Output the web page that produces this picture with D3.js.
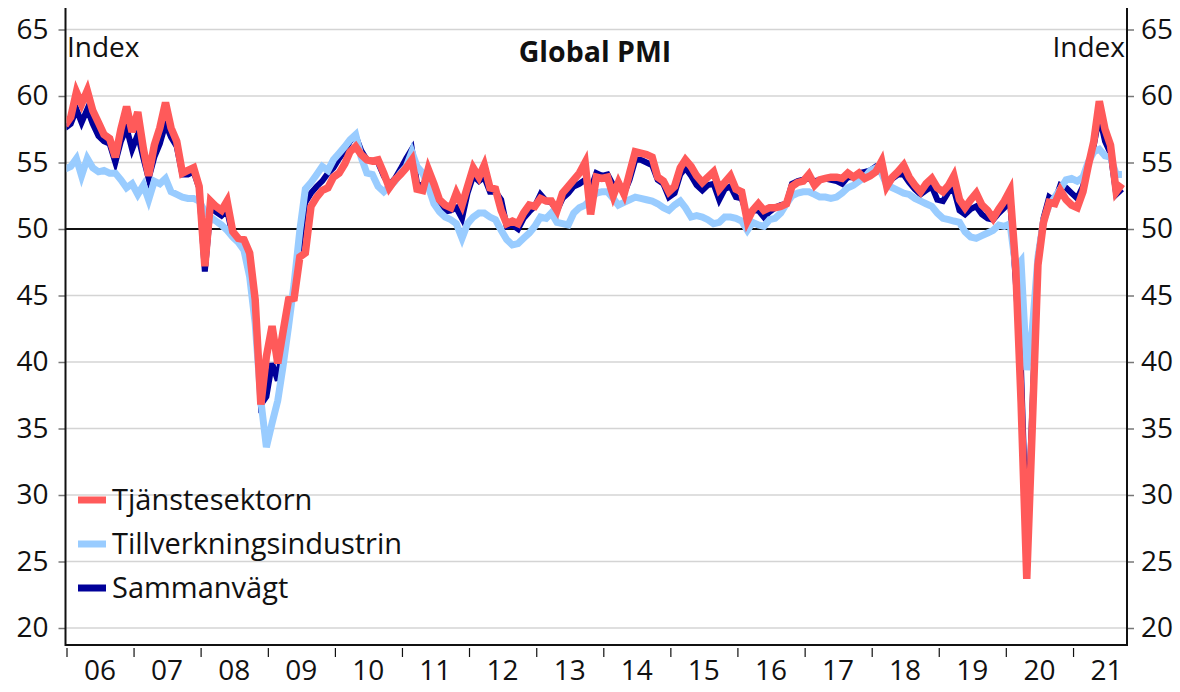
<!DOCTYPE html>
<html>
<head>
<meta charset="utf-8">
<script src="https://cdn.jsdelivr.net/npm/d3@7"></script>
<style>
  body { margin: 0; background: #fff; }
  svg text { font-family: "Open Sans", "Noto Sans", sans-serif; fill: #111; }
</style>
</head>
<body>
<svg id="chart" width="1180" height="692"></svg>
<script>
// monthly values, first point Dec 2005, last Sep 2021
const startYear = 2005, startMonth = 11;

const services = [
  57.8,
  58.4, 60.3, 59.4, 60.4, 58.9, 58.0, 57.1, 56.8, 55.4, 57.5, 59.2, 57.3,
  58.8, 56.0, 54.0, 56.3, 57.6, 59.5, 57.6, 56.6, 54.2, 54.4, 54.6, 53.2,
  47.2, 52.1, 51.7, 51.4, 52.1, 49.8, 49.3, 49.2, 48.2, 44.7, 36.8, 40.4,
  42.7, 39.9, 42.2, 44.7, 44.8, 47.9, 48.2, 51.7, 52.4, 52.9, 53.1, 53.9,
  54.2, 54.9, 55.8, 56.2, 55.6, 55.2, 55.1, 55.2, 54.2, 53.1, 53.7, 54.1,
  54.6, 55.2, 53.0, 52.9, 54.5, 53.4, 52.2, 51.8, 51.6, 52.7, 51.8, 53.2,
  54.6, 53.9, 54.8, 53.1, 53.0, 51.4, 50.4, 50.6, 50.4, 51.2, 51.8, 51.7,
  52.3, 52.1, 52.1, 51.4, 52.7, 53.2, 53.7, 54.2, 55.0, 51.1, 53.9, 53.8,
  53.9, 52.5, 53.5, 52.6, 54.2, 55.8, 55.7, 55.6, 55.4, 53.9, 53.6, 52.8,
  53.2, 54.6, 55.2, 54.7, 54.0, 53.5, 53.9, 54.3, 53.0, 53.5, 54.0, 53.0,
  52.8, 50.6, 51.4, 51.9, 51.4, 51.6, 51.6, 51.7, 51.9, 53.2, 53.5, 53.6,
  54.1, 53.3, 53.7, 53.8, 53.9, 53.9, 53.8, 54.2, 53.9, 54.2, 53.8, 54.0,
  54.3, 55.1, 53.2, 53.9, 54.3, 54.8, 53.9, 53.3, 52.8, 53.4, 53.8, 53.1,
  52.8, 53.3, 54.0, 52.2, 51.6, 52.2, 52.7, 51.8, 51.4, 50.8, 51.5, 52.1,
  52.9, 47.1, 37.0, 23.7, 35.1, 47.3, 50.5, 52.0, 51.9, 52.9, 52.2, 51.8,
  51.6, 52.8, 54.7, 56.6, 59.6, 57.5, 56.3, 52.8, 53.4
];

const manufacturing = [
  54.5,
  54.7, 55.3, 54.0, 55.3, 54.6, 54.3, 54.4, 54.2, 54.2, 53.7, 53.1, 53.4,
  52.6, 53.3, 52.2, 53.6, 53.4, 53.8, 52.8, 52.6, 52.4, 52.3, 52.3, 52.1,
  51.3, 50.9, 50.6, 50.3, 49.9, 49.4, 49.0, 48.4, 46.4, 42.9, 37.1, 33.6,
  35.4, 37.1, 39.6, 42.7, 45.9, 49.9, 53.0, 53.5, 54.1, 54.7, 54.4, 55.2,
  55.7, 56.2, 56.7, 57.1, 55.4, 54.2, 54.1, 53.2, 52.8, 53.2, 53.6, 54.2,
  54.7, 55.8, 54.7, 54.2, 53.2, 51.9, 51.3, 50.9, 50.7, 50.4, 49.3, 50.4,
  50.9, 51.2, 51.2, 50.9, 50.7, 49.9, 49.2, 48.8, 48.9, 49.3, 49.7, 50.2,
  50.9, 50.8, 51.2, 50.5, 50.4, 50.3, 51.2, 51.6, 51.8, 52.2, 52.7, 52.8,
  52.8, 52.3, 51.8, 52.0, 52.2, 52.4, 52.3, 52.2, 52.1, 51.9, 51.6, 51.4,
  51.8, 52.1, 51.6, 50.9, 51.0, 50.9, 50.7, 50.4, 50.5, 50.9, 50.9, 50.8,
  50.6, 49.9, 50.5, 50.3, 50.2, 50.7, 50.8, 51.2, 51.9, 52.5, 52.7, 52.8,
  52.8, 52.6, 52.4, 52.4, 52.3, 52.4, 52.7, 53.1, 53.3, 53.6, 53.9, 54.4,
  54.6, 54.2, 53.3, 53.1, 52.9, 52.7, 52.6, 52.3, 52.1, 51.9, 51.7, 51.2,
  50.8, 50.7, 50.6, 50.5, 49.8, 49.4, 49.3, 49.5, 49.7, 49.9, 50.3, 50.2,
  50.4, 47.1, 47.6, 39.4, 42.4, 47.9, 50.6, 51.8, 52.4, 53.0, 53.7, 53.8,
  53.6, 53.9, 55.0, 55.8, 56.0, 55.5, 55.4, 54.1, 54.1
];

const composite = [
  57.6,
  57.9, 59.0, 58.0, 59.0, 57.9, 57.0, 56.6, 56.4, 55.0, 56.6, 57.6, 56.0,
  57.1, 55.3, 53.8, 55.4, 56.4, 57.9, 56.9, 56.2, 54.1, 54.1, 54.3, 53.1,
  46.8, 51.6, 51.3, 51.0, 51.4, 49.5, 49.1, 48.9, 47.7, 44.5, 36.8, 37.4,
  39.9, 38.6, 41.6, 44.5, 45.0, 48.7, 52.0, 52.7, 53.2, 53.6, 54.2, 54.6,
  55.3, 55.9, 56.6, 57.0, 55.9, 55.2, 55.1, 55.0, 54.0, 53.3, 53.8, 54.5,
  55.3, 56.0, 53.4, 53.2, 54.2, 53.0, 51.9, 51.3, 51.4, 51.6, 50.8, 52.7,
  54.0, 53.6, 53.9, 52.8, 52.8, 52.2, 50.2, 50.3, 50.0, 50.8, 51.3, 51.7,
  52.6, 52.1, 52.0, 51.4, 52.3, 52.7, 53.2, 53.4, 53.7, 53.0, 54.2, 54.0,
  54.1, 53.3, 53.4, 52.7, 53.7, 55.2, 55.2, 55.0, 54.8, 53.7, 53.4, 52.4,
  52.7, 54.1, 54.6, 54.0, 53.3, 52.9, 53.3, 53.4, 52.2, 53.0, 53.2, 52.4,
  52.3, 51.0, 51.4, 51.4, 50.9, 51.3, 51.6, 51.8, 51.9, 53.4, 53.6, 53.7,
  53.8, 53.6, 53.7, 53.8, 53.7, 53.6, 53.4, 53.9, 53.9, 54.2, 54.3, 54.4,
  54.7, 54.6, 53.3, 53.8, 54.1, 54.1, 53.5, 53.0, 52.6, 52.9, 53.2, 52.2,
  52.1, 52.8, 53.0, 51.4, 51.1, 51.5, 51.7, 51.1, 50.8, 50.7, 51.2, 51.6,
  52.2, 46.1, 39.4, 26.2, 36.3, 47.8, 50.8, 52.4, 52.1, 53.3, 53.1, 52.7,
  52.3, 53.2, 54.8, 56.3, 58.5, 56.6, 55.7, 52.6, 53.0
];

const yTicks = [20, 25, 30, 35, 40, 45, 50, 55, 60, 65];
const yearLabels = ["06", "07", "08", "09", "10", "11", "12", "13", "14", "15", "16", "17", "18", "19", "20", "21"];

const seriesNames = ["Tjänstesektorn", "Tillverkningsindustrin", "Sammanvägt"];
const seriesColors = ["#ff5a5a", "#99ccff", "#000099"];

const svg = d3.select("#chart");

const plotL = 65.5, plotR = 1127, plotT = 8, plotB = 645;

const x = d3.scaleTime()
  .domain([new Date(2006, 0, 1), new Date(2022, 0, 1)])
  .range([66.5, 66.5 + 16 * 67.1]);
const y = d3.scaleLinear().domain([20, 65]).range([628, 29.5]);

const dateOf = i => new Date(startYear, startMonth + i, 24);

svg.append("defs").append("clipPath").attr("id", "plotClip")
  .append("rect").attr("x", plotL + 1).attr("y", plotT).attr("width", plotR - plotL - 1).attr("height", plotB - plotT);

// grid
svg.append("g").selectAll("line")
  .data(yTicks.filter(v => v !== 50))
  .enter().append("line")
  .attr("x1", plotL).attr("x2", plotR)
  .attr("y1", d => y(d)).attr("y2", d => y(d))
  .attr("stroke", "#d4d4d4").attr("stroke-width", 1.5);

svg.append("line")
  .attr("x1", plotL).attr("x2", plotR)
  .attr("y1", y(50)).attr("y2", y(50))
  .attr("stroke", "#111").attr("stroke-width", 2);

// y axes
const yLeft = svg.append("g").attr("transform", "translate(" + plotL + ",0)")
  .call(d3.axisLeft(y).tickValues(yTicks).tickSize(7).tickPadding(10));
const yRight = svg.append("g").attr("transform", "translate(" + plotR + ",0)")
  .call(d3.axisRight(y).tickValues(yTicks).tickSize(7).tickPadding(7));

[yLeft, yRight].forEach(g => {
  g.select(".domain").remove();
  g.selectAll(".tick line").attr("stroke", "#777").attr("stroke-width", 1.5);
  g.selectAll(".tick text").attr("font-size", 28).attr("fill", "#111")
    .style("font-family", "'Open Sans', 'Noto Sans', sans-serif");
});

// frame
svg.append("line").attr("x1", plotL).attr("x2", plotL).attr("y1", plotT).attr("y2", plotB + 1)
  .attr("stroke", "#111").attr("stroke-width", 2);
svg.append("line").attr("x1", plotR).attr("x2", plotR).attr("y1", plotT).attr("y2", plotB + 1)
  .attr("stroke", "#111").attr("stroke-width", 2);
svg.append("line").attr("x1", plotL).attr("x2", plotR).attr("y1", plotB).attr("y2", plotB)
  .attr("stroke", "#111").attr("stroke-width", 2);

// x axis: ticks at year start, labels mid-year
const years = d3.range(2006, 2022).map(yy => new Date(yy, 0, 1));
const xAxis = svg.append("g").attr("transform", "translate(0," + plotB + ")")
  .call(d3.axisBottom(x).tickValues(years).tickSize(12).tickFormat(""));
xAxis.select(".domain").remove();
xAxis.selectAll(".tick line").attr("stroke", "#111").attr("stroke-width", 1.2).attr("y1", 3);

svg.append("g").selectAll("text")
  .data(yearLabels)
  .enter().append("text")
  .attr("x", (d, i) => x(new Date(2006 + i, 6, 2)))
  .attr("y", 680)
  .attr("text-anchor", "middle")
  .attr("font-size", 28)
  .text(d => d);

// lines
const line = d3.line()
  .x((d, i) => x(dateOf(i)))
  .y(d => y(d));

const plot = svg.append("g").attr("clip-path", "url(#plotClip)");
plot.append("path").datum(composite)
  .attr("d", line).attr("fill", "none").attr("stroke", seriesColors[2]).attr("stroke-width", 6);
plot.append("path").datum(manufacturing)
  .attr("d", line).attr("fill", "none").attr("stroke", seriesColors[1]).attr("stroke-width", 7);
plot.append("path").datum(services)
  .attr("d", line).attr("fill", "none").attr("stroke", seriesColors[0]).attr("stroke-width", 7.5);

// labels
svg.append("text").attr("x", 67).attr("y", 57).attr("font-size", 28).text("Index");
svg.append("text").attr("x", 1125).attr("y", 57).attr("font-size", 28).attr("text-anchor", "end").text("Index");
svg.append("text").attr("x", 595).attr("y", 62).attr("font-size", 28.5).attr("font-weight", "bold")
  .attr("text-anchor", "middle").text("Global PMI");

// legend
const legend = svg.append("g").selectAll("g")
  .data(seriesNames)
  .enter().append("g")
  .attr("transform", (d, i) => "translate(78," + (500 + i * 44) + ")");
legend.append("line").attr("x1", 0).attr("x2", 28).attr("y1", 0).attr("y2", 0)
  .attr("stroke", (d, i) => seriesColors[i]).attr("stroke-width", 7);
legend.append("text").attr("x", 34).attr("y", 10).attr("font-size", 29).text(d => d);
</script>
</body>
</html>
